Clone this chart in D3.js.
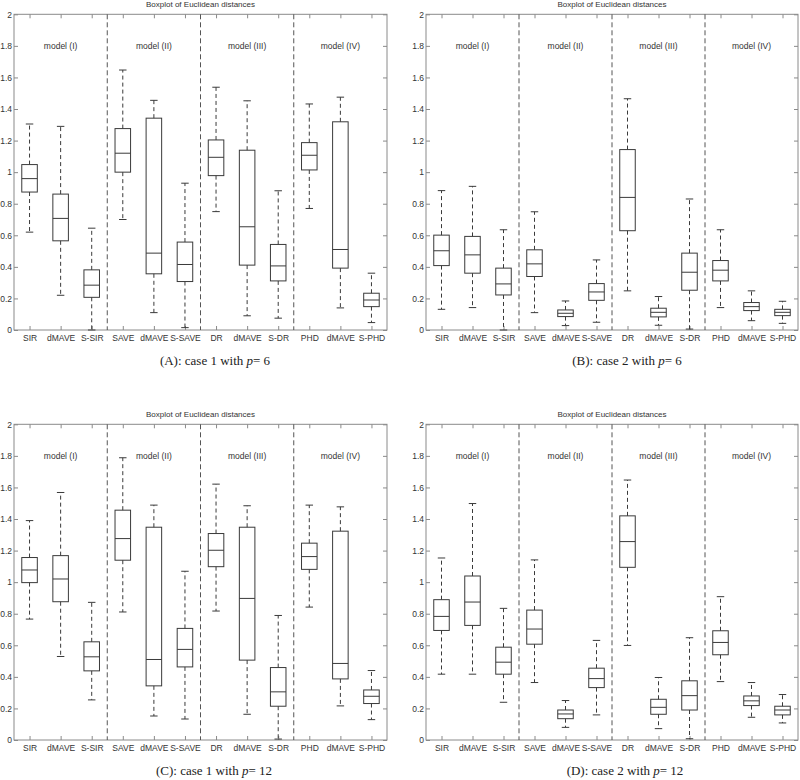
<!DOCTYPE html>
<html>
<head>
<meta charset="utf-8">
<script src="https://cdn.jsdelivr.net/npm/d3@7/dist/d3.min.js"></script>
<style>
  html, body { margin: 0; padding: 0; background: #fff; }
  svg { display: block; }
</style>
</head>
<body>
<svg id="chart" width="800" height="780"></svg>
<script>
// ---------------- data ----------------
const methods = ["SIR","dMAVE","S-SIR","SAVE","dMAVE","S-SAVE","DR","dMAVE","S-DR","PHD","dMAVE","S-PHD"];
const models = ["model (I)","model (II)","model (III)","model (IV)"];
const yTicks = [0,0.2,0.4,0.6,0.8,1,1.2,1.4,1.6,1.8,2];
const yTickLabels = ["0","0.2","0.4","0.6","0.8","1","1.2","1.4","1.6","1.8","2"];
const chartTitle = "Boxplot of Euclidean distances";

// Panel A: case 1, p = 6
const A_low = [0.62,0.22,0.00,0.70,0.11,0.015,0.75,0.09,0.075,0.77,0.14,0.047];
const A_q1  = [0.874,0.565,0.207,1.00,0.356,0.307,0.978,0.411,0.311,1.014,0.392,0.148];
const A_med = [0.959,0.707,0.284,1.12,0.487,0.415,1.094,0.654,0.406,1.107,0.510,0.190];
const A_q3  = [1.048,0.861,0.381,1.276,1.342,0.557,1.204,1.139,0.542,1.187,1.319,0.233];
const A_high= [1.305,1.29,0.645,1.647,1.455,0.93,1.538,1.452,0.882,1.432,1.475,0.36];

// Panel B: case 2, p = 6
const B_low = [0.131,0.142,0.00,0.110,0.028,0.049,0.248,0.030,0.006,0.142,0.059,0.042];
const B_q1  = [0.408,0.360,0.222,0.339,0.085,0.188,0.629,0.083,0.252,0.311,0.123,0.091];
const B_med = [0.502,0.476,0.292,0.419,0.106,0.241,0.840,0.112,0.366,0.379,0.148,0.112];
const B_q3  = [0.601,0.593,0.392,0.508,0.127,0.294,1.143,0.138,0.487,0.440,0.174,0.131];
const B_high= [0.883,0.910,0.635,0.749,0.184,0.444,1.465,0.212,0.830,0.635,0.248,0.182];

// Panel C: case 1, p = 12
const C_low = [0.766,0.529,0.254,0.811,0.152,0.133,0.817,0.163,0.006,0.842,0.216,0.129];
const C_q1  = [0.997,0.876,0.438,1.139,0.343,0.463,1.098,0.506,0.214,1.081,0.387,0.231];
const C_med = [1.077,1.020,0.527,1.276,0.510,0.574,1.202,0.897,0.305,1.162,0.485,0.277];
const C_q3  = [1.156,1.168,0.622,1.456,1.348,0.707,1.308,1.348,0.459,1.247,1.323,0.317];
const C_high= [1.390,1.568,0.872,1.788,1.488,1.069,1.621,1.484,0.789,1.488,1.477,0.440];

// Panel D: case 2, p = 12
const D_low = [0.417,0.417,0.239,0.364,0.080,0.159,0.599,0.072,0.008,0.370,0.144,0.108];
const D_q1  = [0.694,0.726,0.417,0.607,0.135,0.332,1.094,0.163,0.190,0.540,0.218,0.159];
const D_med = [0.783,0.874,0.493,0.703,0.165,0.389,1.257,0.207,0.281,0.618,0.248,0.190];
const D_q3  = [0.889,1.039,0.588,0.823,0.190,0.455,1.420,0.258,0.375,0.692,0.279,0.214];
const D_high= [1.153,1.498,0.834,1.141,0.250,0.631,1.647,0.396,0.648,0.908,0.364,0.288];

const captions = [
  {tag:"(A)", caseNo:"1", p:"6"},
  {tag:"(B)", caseNo:"2", p:"6"},
  {tag:"(C)", caseNo:"1", p:"12"},
  {tag:"(D)", caseNo:"2", p:"12"}
];

// ---------------- layout ----------------
const panels = [
  {low:A_low,q1:A_q1,med:A_med,q3:A_q3,high:A_high, x0:14,  x1:387, y0:14.3,  y1:330, capX:215},
  {low:B_low,q1:B_q1,med:B_med,q3:B_q3,high:B_high, x0:426, x1:798, y0:14.3,  y1:330, capX:627},
  {low:C_low,q1:C_q1,med:C_med,q3:C_q3,high:C_high, x0:14,  x1:387, y0:424.3, y1:740, capX:214},
  {low:D_low,q1:D_q1,med:D_med,q3:D_q3,high:D_high, x0:426, x1:798, y0:424.3, y1:740, capX:625}
];

const svg = d3.select("#chart");
const sans = "Liberation Sans, Arial, sans-serif";
const lineCol = "#3a3a3a";
const frameCol = "#8a8a8a";
const textCol = "#333";

panels.forEach((P, pi) => {
  const g = svg.append("g");
  const x = d3.scaleLinear().domain([0.5, 12.5]).range([P.x0, P.x1]);
  const y = d3.scaleLinear().domain([0, 2]).range([P.y1, P.y0]);
  const idx = d3.range(methods.length);

  // frame
  g.append("rect").attr("x", P.x0).attr("y", P.y0)
    .attr("width", P.x1 - P.x0).attr("height", P.y1 - P.y0)
    .attr("fill", "none").attr("stroke", frameCol).attr("stroke-width", 1);

  // y axis (left) and ticks mirrored on right
  const yAxisL = d3.axisLeft(y).tickValues(yTicks)
    .tickFormat((d, i) => yTickLabels[i]).tickSizeInner(-4).tickSizeOuter(0).tickPadding(2);
  const gl = g.append("g").attr("transform", `translate(${P.x0},0)`).call(yAxisL);
  const yAxisR = d3.axisRight(y).tickValues(yTicks).tickFormat("").tickSizeInner(-4).tickSizeOuter(0);
  const gr = g.append("g").attr("transform", `translate(${P.x1},0)`).call(yAxisR);

  // x axis bottom with labels, top ticks
  const xAxisB = d3.axisBottom(x).tickValues(idx.map(i => i + 1))
    .tickFormat((d, i) => methods[i]).tickSizeInner(-4).tickSizeOuter(0).tickPadding(5);
  const gb = g.append("g").attr("transform", `translate(0,${P.y1})`).call(xAxisB);
  const xAxisT = d3.axisTop(x).tickValues(idx.map(i => i + 1)).tickFormat("").tickSizeInner(-4).tickSizeOuter(0);
  const gt = g.append("g").attr("transform", `translate(0,${P.y0})`).call(xAxisT);

  [gl, gr, gb, gt].forEach(a => {
    a.select(".domain").remove();
    a.selectAll(".tick line").attr("stroke", frameCol);
    a.selectAll(".tick text").attr("fill", textCol)
      .style("font-family", sans).style("font-size", "8.5px");
  });

  // title
  g.append("text").attr("x", (P.x0 + P.x1) / 2).attr("y", P.y0 - 7)
    .attr("text-anchor", "middle").attr("fill", textCol)
    .style("font-family", sans).style("font-size", "8px").text(chartTitle);

  // group separators
  [3.5, 6.5, 9.5].forEach(s => {
    g.append("line").attr("x1", x(s)).attr("x2", x(s))
      .attr("y1", P.y0).attr("y2", P.y1)
      .attr("stroke", "#555").attr("stroke-width", 1).attr("stroke-dasharray", "5,3");
  });

  // model labels
  models.forEach((m, k) => {
    g.append("text").attr("x", x(2 + 3 * k)).attr("y", y(1.8) + 3)
      .attr("text-anchor", "middle").attr("fill", textCol)
      .style("font-family", sans).style("font-size", "8.5px").text(m);
  });

  // boxes
  const bw = 0.25, cw = 0.12;
  idx.forEach(i => {
    const cx = x(i + 1);
    // whiskers
    g.append("line").attr("x1", cx).attr("x2", cx).attr("y1", y(P.q3[i])).attr("y2", y(P.high[i]))
      .attr("stroke", lineCol).attr("stroke-dasharray", "4,3");
    g.append("line").attr("x1", cx).attr("x2", cx).attr("y1", y(P.q1[i])).attr("y2", y(P.low[i]))
      .attr("stroke", lineCol).attr("stroke-dasharray", "4,3");
    // caps
    [P.high[i], P.low[i]].forEach(v => {
      g.append("line").attr("x1", x(i + 1 - cw)).attr("x2", x(i + 1 + cw))
        .attr("y1", y(v)).attr("y2", y(v)).attr("stroke", lineCol);
    });
    // box
    g.append("rect").attr("x", x(i + 1 - bw)).attr("y", y(P.q3[i]))
      .attr("width", x(i + 1 + bw) - x(i + 1 - bw)).attr("height", y(P.q1[i]) - y(P.q3[i]))
      .attr("fill", "none").attr("stroke", lineCol);
    // median
    g.append("line").attr("x1", x(i + 1 - bw)).attr("x2", x(i + 1 + bw))
      .attr("y1", y(P.med[i])).attr("y2", y(P.med[i])).attr("stroke", lineCol);
  });

  // caption
  const c = captions[pi];
  const t = g.append("text").attr("x", P.capX).attr("y", P.y1 + 35)
    .attr("text-anchor", "middle").attr("fill", "#222")
    .style("font-family", "Liberation Serif, Times New Roman, serif").style("font-size", "13px");
  t.append("tspan").text(`${c.tag}: case ${c.caseNo} with `);
  t.append("tspan").style("font-style", "italic").text("p");
  t.append("tspan").text(`= ${c.p}`);
});
</script>
</body>
</html>
